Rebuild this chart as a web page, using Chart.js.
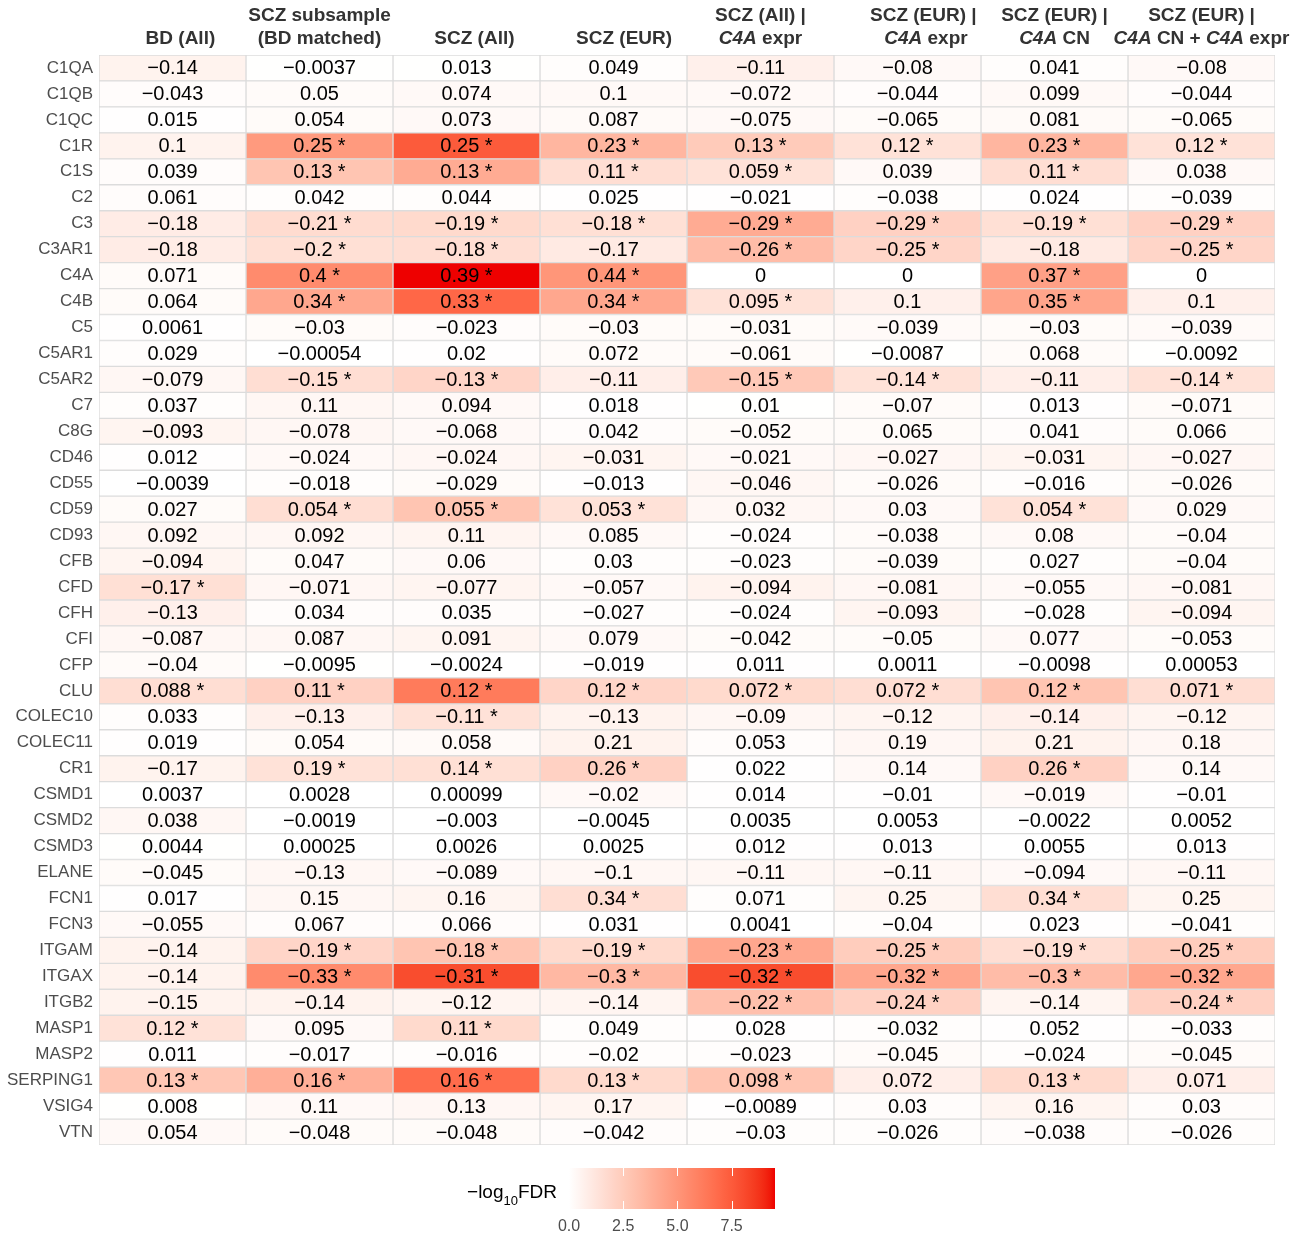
<!DOCTYPE html>
<html><head><meta charset="utf-8">
<script src="https://cdn.jsdelivr.net/npm/chart.js@4.4.1/dist/chart.umd.min.js"></script>
<style>html,body{margin:0;padding:0;background:#fff;}#wrap{width:1303px;height:1237px;position:relative;}</style>
</head><body><div id="wrap"><canvas id="c" width="1303" height="1237"></canvas></div>
<script>
// ---------- DATA ----------
const genes = ['C1QA','C1QB','C1QC','C1R','C1S','C2','C3','C3AR1','C4A','C4B','C5','C5AR1','C5AR2','C7','C8G','CD46','CD55','CD59','CD93','CFB','CFD','CFH','CFI','CFP','CLU','COLEC10','COLEC11','CR1','CSMD1','CSMD2','CSMD3','ELANE','FCN1','FCN3','ITGAM','ITGAX','ITGB2','MASP1','MASP2','SERPING1','VSIG4','VTN'];

// column headers: [line1 segments, line2 segments], segment = [text, italic]
const headers = [
  [[], [['   BD (All)', false]]],
  [[['SCZ subsample', false]], [['(BD matched)', false]]],
  [[], [['   SCZ (All)', false]]],
  [[], [['    SCZ (EUR)', false]]],
  [[['SCZ (All) |', false]], [['C4A', true], [' expr', false]]],
  [[['      SCZ (EUR) |', false]], [['       ', false], ['C4A', true], [' expr', false]]],
  [[['SCZ (EUR) |', false]], [['C4A', true], [' CN', false]]],
  [[['SCZ (EUR) |', false]], [['C4A', true], [' CN + ', false], ['C4A', true], [' expr', false]]]
];

// effect values per column
const bdAll = [-0.14,-0.043,0.015,0.1,0.039,0.061,-0.18,-0.18,0.071,0.064,0.0061,0.029,-0.079,0.037,-0.093,0.012,-0.0039,0.027,0.092,-0.094,-0.17,-0.13,-0.087,-0.04,0.088,0.033,0.019,-0.17,0.0037,0.038,0.0044,-0.045,0.017,-0.055,-0.14,-0.14,-0.15,0.12,0.011,0.13,0.008,0.054];
const sczSub = [-0.0037,0.05,0.054,0.25,0.13,0.042,-0.21,-0.2,0.4,0.34,-0.03,-0.00054,-0.15,0.11,-0.078,-0.024,-0.018,0.054,0.092,0.047,-0.071,0.034,0.087,-0.0095,0.11,-0.13,0.054,0.19,0.0028,-0.0019,0.00025,-0.13,0.15,0.067,-0.19,-0.33,-0.14,0.095,-0.017,0.16,0.11,-0.048];
const sczAll = [0.013,0.074,0.073,0.25,0.13,0.044,-0.19,-0.18,0.39,0.33,-0.023,0.02,-0.13,0.094,-0.068,-0.024,-0.029,0.055,0.11,0.06,-0.077,0.035,0.091,-0.0024,0.12,-0.11,0.058,0.14,0.00099,-0.003,0.0026,-0.089,0.16,0.066,-0.18,-0.31,-0.12,0.11,-0.016,0.16,0.13,-0.048];
const sczEur = [0.049,0.1,0.087,0.23,0.11,0.025,-0.18,-0.17,0.44,0.34,-0.03,0.072,-0.11,0.018,0.042,-0.031,-0.013,0.053,0.085,0.03,-0.057,-0.027,0.079,-0.019,0.12,-0.13,0.21,0.26,-0.02,-0.0045,0.0025,-0.1,0.34,0.031,-0.19,-0.3,-0.14,0.049,-0.02,0.13,0.17,-0.042];
const sczAllC4Aexpr = [-0.11,-0.072,-0.075,0.13,0.059,-0.021,-0.29,-0.26,0,0.095,-0.031,-0.061,-0.15,0.01,-0.052,-0.021,-0.046,0.032,-0.024,-0.023,-0.094,-0.024,-0.042,0.011,0.072,-0.09,0.053,0.022,0.014,0.0035,0.012,-0.11,0.071,0.0041,-0.23,-0.32,-0.22,0.028,-0.023,0.098,-0.0089,-0.03];
const sczEurC4Aexpr = [-0.08,-0.044,-0.065,0.12,0.039,-0.038,-0.29,-0.25,0,0.1,-0.039,-0.0087,-0.14,-0.07,0.065,-0.027,-0.026,0.03,-0.038,-0.039,-0.081,-0.093,-0.05,0.0011,0.072,-0.12,0.19,0.14,-0.01,0.0053,0.013,-0.11,0.25,-0.04,-0.25,-0.32,-0.24,-0.032,-0.045,0.072,0.03,-0.026];
const sczEurC4ACN = [0.041,0.099,0.081,0.23,0.11,0.024,-0.19,-0.18,0.37,0.35,-0.03,0.068,-0.11,0.013,0.041,-0.031,-0.016,0.054,0.08,0.027,-0.055,-0.028,0.077,-0.0098,0.12,-0.14,0.21,0.26,-0.019,-0.0022,0.0055,-0.094,0.34,0.023,-0.19,-0.3,-0.14,0.052,-0.024,0.13,0.16,-0.038];
const sczEurC4ACNexpr = [-0.08,-0.044,-0.065,0.12,0.038,-0.039,-0.29,-0.25,0,0.1,-0.039,-0.0092,-0.14,-0.071,0.066,-0.027,-0.026,0.029,-0.04,-0.04,-0.081,-0.094,-0.053,0.00053,0.071,-0.12,0.18,0.14,-0.01,0.0052,0.013,-0.11,0.25,-0.041,-0.25,-0.32,-0.24,-0.033,-0.045,0.071,0.03,-0.026];

// -log10 FDR per column (estimated from fill colour)
const fdrBdAll = [0.6,0.15,0.05,0.6,0.15,0.15,0.9,0.9,0.2,0.2,0.05,0.1,0.4,0.1,0.5,0.05,0.01,0.2,0.4,0.5,1.5,0.7,0.4,0.2,1.6,0.1,0.05,0.6,0,0.4,0.02,0.2,0.05,0.3,0.6,0.6,0.6,1.4,0.05,2.7,0.02,0.3];
const fdrSczSub = [0.02,0.2,0.2,4.8,2.8,0.1,1.7,1.5,5.5,4.2,0.2,0,1.6,0.4,0.4,0.3,0.1,1.6,0.4,0.2,0.4,0.15,0.4,0.02,2.2,0.7,0.2,1.4,0,0,0,0.4,0.4,0.15,2.0,5.5,0.6,0.3,0.1,3.8,0.3,0.2];
const fdrSczAll = [0.02,0.3,0.3,7.5,4.0,0.1,1.8,1.6,9.5,7.0,0.15,0.05,2.0,0.3,0.3,0.4,0.2,2.8,0.5,0.3,0.5,0.15,0.5,0.01,6.2,1.4,0.25,1.5,0,0,0,0.3,0.5,0.15,2.8,8.0,0.5,1.8,0.1,6.8,0.4,0.2];
const fdrSczEur = [0.1,0.3,0.25,3.5,1.6,0.05,1.5,1.0,5.0,4.2,0.2,0.2,0.8,0.05,0.15,0.5,0.05,1.4,0.3,0.1,0.3,0.1,0.3,0.05,2.0,0.6,0.6,2.2,0.3,0,0,0.4,1.6,0.05,1.8,3.4,0.5,0.1,0.1,1.8,0.5,0.15];
const fdrSczAllC4Aexpr = [0.7,0.3,0.3,2.5,1.4,0.05,4.0,3.2,0,1.4,0.2,0.2,2.6,0.02,0.2,0.3,0.4,0.4,0.1,0.1,0.6,0.1,0.2,0.03,1.8,0.4,0.15,0.05,0.05,0,0.05,0.4,0.1,0,4.2,8.0,3.0,0.05,0.1,2.8,0.05,0.1];
const fdrSczEurC4Aexpr = [0.3,0.15,0.2,1.4,0.3,0.1,2.2,2.0,0,0.7,0.25,0.02,1.4,0.2,0.2,0.4,0.2,0.3,0.2,0.2,0.4,0.5,0.2,0,1.6,0.5,0.4,0.3,0.05,0,0.05,0.4,0.5,0.1,2.4,4.2,2.2,0.1,0.2,0.8,0.15,0.1];
const fdrSczEurC4ACN = [0.1,0.3,0.25,3.5,1.6,0.05,1.5,1.0,4.5,4.3,0.2,0.2,0.8,0.03,0.15,0.5,0.1,1.4,0.3,0.1,0.3,0.1,0.3,0.03,2.8,0.7,0.6,2.2,0.3,0,0,0.3,1.6,0.03,1.6,3.2,0.5,0.05,0.1,1.8,0.5,0.15];
const fdrSczEurC4ACNexpr = [0.3,0.15,0.2,1.4,0.3,0.1,2.2,2.0,0,0.7,0.25,0.02,1.4,0.2,0.2,0.4,0.2,0.3,0.2,0.2,0.4,0.5,0.2,0,1.6,0.5,0.4,0.3,0.05,0,0.05,0.4,0.5,0.1,2.4,4.2,2.2,0.1,0.2,0.8,0.15,0.1];

const legendTicks = [0, 2.5, 5, 7.5];
const fdrMax = 9.5;
const sigThreshold = -Math.log10(0.05);

const valueCols = [bdAll, sczSub, sczAll, sczEur, sczAllC4Aexpr, sczEurC4Aexpr, sczEurC4ACN, sczEurC4ACNexpr];
const fdrCols = [fdrBdAll, fdrSczSub, fdrSczAll, fdrSczEur, fdrSczAllC4Aexpr, fdrSczEurC4Aexpr, fdrSczEurC4ACN, fdrSczEurC4ACNexpr];

// ---------- COLOUR (Lab interpolation white -> red) ----------
const LOW = [255,255,255], HIGH = [238,0,0];
function toLin(c){c/=255;return c<=0.04045?c/12.92:Math.pow((c+0.055)/1.055,2.4);}
function fromLin(c){c=c<=0.0031308?12.92*c:1.055*Math.pow(Math.max(c,0),1/2.4)-0.055;return Math.round(Math.max(0,Math.min(1,c))*255);}
function rgb2lab(rgb){const [r,g,b]=rgb.map(toLin);const X=(0.4124*r+0.3576*g+0.1805*b)/0.95047,Y=0.2126*r+0.7152*g+0.0722*b,Z=(0.0193*r+0.1192*g+0.9505*b)/1.08883;const f=t=>t>0.008856?Math.cbrt(t):7.787*t+16/116;const fx=f(X),fy=f(Y),fz=f(Z);return [116*fy-16,500*(fx-fy),200*(fy-fz)];}
function lab2rgb([L,a,b]){const fy=(L+16)/116,fx=fy+a/500,fz=fy-b/200;const fi=t=>t*t*t>0.008856?t*t*t:(t-16/116)/7.787;const X=fi(fx)*0.95047,Y=fi(fy),Z=fi(fz)*1.08883;const r=3.2406*X-1.5372*Y-0.4986*Z,g=-0.9689*X+1.8758*Y+0.0415*Z,bb=0.0557*X-0.2040*Y+1.0570*Z;return [fromLin(r),fromLin(g),fromLin(bb)];}
const LAB_LO = rgb2lab(LOW), LAB_HI = rgb2lab(HIGH);
function colorFor(v){const t=Math.max(0,Math.min(1,v/fdrMax));const lab=LAB_LO.map((c,i)=>c+(LAB_HI[i]-c)*t);const [r,g,b]=lab2rgb(lab);return `rgb(${r},${g},${b})`;}

function fmt(v){return String(v).replace('-', '\u2212');}

const FONT = '"Liberation Sans", Arial, Helvetica, sans-serif';

// ---------- DATASETS ----------
const datasets = valueCols.map((vals, j) => ({
  label: 'col' + j,
  data: genes.map(() => [j, j + 1]),
  backgroundColor: fdrCols[j].map(colorFor),
  borderColor: '#DCDCDC',
  borderWidth: 1,
  borderSkipped: false,
  barPercentage: 1,
  categoryPercentage: 1,
  grouped: false
}));

// ---------- PLUGINS ----------
const cellText = {
  id: 'cellText',
  afterDatasetsDraw(chart) {
    const ctx = chart.ctx;
    ctx.save();
    ctx.font = '20px ' + FONT;
    ctx.fillStyle = '#000';
    ctx.textAlign = 'center';
    ctx.textBaseline = 'middle';
    chart.data.datasets.forEach((ds, j) => {
      const meta = chart.getDatasetMeta(j);
      meta.data.forEach((bar, i) => {
        const p = bar.getProps(['x', 'y', 'base'], true);
        const cx = (p.x + p.base) / 2;
        const sig = fdrCols[j][i] > sigThreshold;
        ctx.fillText(fmt(valueCols[j][i]) + (sig ? ' *' : ''), cx, p.y + 1);
      });
    });
    ctx.restore();
  }
};

function drawSegments(ctx, segs, cx, y, size) {
  const widths = segs.map(([t, it]) => { ctx.font = (it ? 'italic ' : '') + 'bold ' + size + 'px ' + FONT; return ctx.measureText(t).width; });
  const total = widths.reduce((a, b) => a + b, 0);
  let x = cx - total / 2;
  segs.forEach(([t, it], k) => {
    ctx.font = (it ? 'italic ' : '') + 'bold ' + size + 'px ' + FONT;
    ctx.fillText(t, x, y);
    x += widths[k];
  });
}

const headerPlugin = {
  id: 'headerPlugin',
  afterDraw(chart) {
    const ctx = chart.ctx, xs = chart.scales.x;
    ctx.save();
    ctx.fillStyle = '#333333';
    ctx.textAlign = 'left';
    ctx.textBaseline = 'middle';
    headers.forEach((h, j) => {
      const cx = xs.getPixelForValue(j + 0.5);
      if (h[0].length) drawSegments(ctx, h[0], cx, 16, 19);
      drawSegments(ctx, h[1], cx, 39, 19);
    });
    ctx.restore();
  }
};

const colorbarPlugin = {
  id: 'colorbarPlugin',
  afterDraw(chart) {
    const ctx = chart.ctx;
    const left = 569, width = 206, top = 1168, height = 41;
    const px = v => left + v / fdrMax * width;
    ctx.save();
    const grad = ctx.createLinearGradient(left, 0, left + width, 0);
    for (let k = 0; k <= 40; k++) grad.addColorStop(k / 40, colorFor(k / 40 * fdrMax));
    ctx.fillStyle = grad;
    ctx.fillRect(left, top, width, height);
    ctx.strokeStyle = '#ffffff';
    ctx.lineWidth = 1;
    legendTicks.forEach(v => {
      if (v === 0) return;
      const x = Math.round(px(v)) + 0.5;
      ctx.beginPath(); ctx.moveTo(x, top); ctx.lineTo(x, top + 8); ctx.stroke();
      ctx.beginPath(); ctx.moveTo(x, top + height - 8); ctx.lineTo(x, top + height); ctx.stroke();
    });
    ctx.fillStyle = '#4D4D4D';
    ctx.font = '16px ' + FONT;
    ctx.textAlign = 'center';
    ctx.textBaseline = 'middle';
    legendTicks.forEach(v => ctx.fillText(v.toFixed(1), px(v), 1227));
    // title  −log10FDR
    ctx.fillStyle = '#000';
    ctx.textAlign = 'left';
    const big = '19px ' + FONT, small = '13px ' + FONT;
    ctx.font = big; const w1 = ctx.measureText('\u2212log').width;
    ctx.font = small; const w2 = ctx.measureText('10').width;
    ctx.font = big; const w3 = ctx.measureText('FDR').width;
    let x = 557 - (w1 + w2 + w3);
    ctx.font = big; ctx.fillText('\u2212log', x, 1193); x += w1;
    ctx.font = small; ctx.fillText('10', x, 1201); x += w2;
    ctx.font = big; ctx.fillText('FDR', x, 1193);
    ctx.restore();
  }
};

new Chart(document.getElementById('c'), {
  type: 'bar',
  data: { labels: genes, datasets },
  options: {
    indexAxis: 'y',
    responsive: false,
    animation: false,
    layout: { padding: { top: 55, right: 28, bottom: 92, left: 0 } },
    scales: {
      x: { type: 'linear', min: 0, max: 8, display: false },
      y: {
        type: 'category',
        grid: { display: false, drawTicks: false },
        border: { display: false },
        ticks: { color: '#4D4D4D', font: { family: FONT, size: 17 }, padding: 6 },
        afterFit(s) { s.width = 99; }
      }
    },
    plugins: { legend: { display: false }, tooltip: { enabled: false } }
  },
  plugins: [cellText, headerPlugin, colorbarPlugin]
});
</script>
</body></html>
